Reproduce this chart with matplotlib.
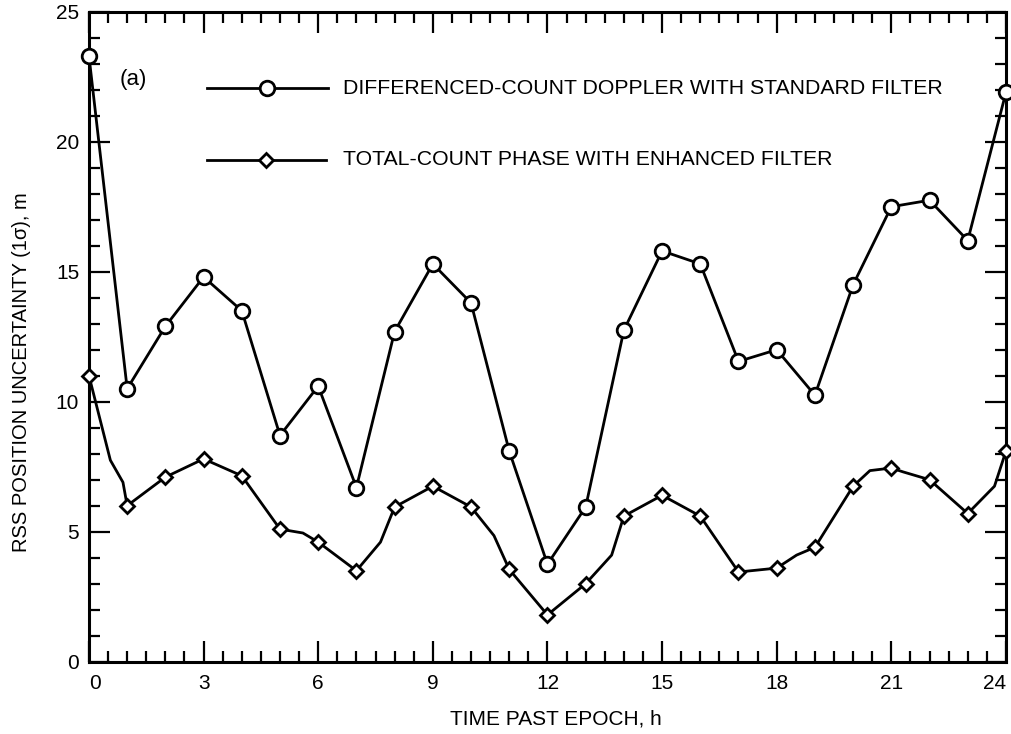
import matplotlib
matplotlib.use("Agg")
import matplotlib.pyplot as plt
from matplotlib.ticker import MultipleLocator

######################
### Data
######################
hours = list(range(25))

# differenced-count doppler, standard filter (circles)
doppler = [23.3, 10.5, 12.9, 14.8, 13.5, 8.7, 10.6, 6.7, 12.7, 15.3, 13.8, 8.1, 3.75,
           5.95, 12.75, 15.8, 15.3, 11.55, 12.0, 10.25, 14.5, 17.5, 17.75, 16.2, 21.9]

# total-count phase, enhanced filter (diamonds)
phase = [11.0, 6.0, 7.1, 7.8, 7.15, 5.1, 4.6, 3.5, 5.95, 6.75, 5.95, 3.55, 1.8,
         3.0, 5.6, 6.4, 5.6, 3.45, 3.6, 4.4, 6.75, 7.45, 7.0, 5.7, 8.1]

# bends of the phase trace between the marked hours
phase_bend_x = [0.56, 0.89, 5.6, 7.63, 10.6, 13.68, 18.52, 20.44, 21.31, 23.7]
phase_bend_y = [7.75, 6.9, 4.95, 4.6, 4.85, 4.1, 4.1, 7.35, 7.3, 6.75]

x_ticks = [0, 3, 6, 9, 12, 15, 18, 21, 24]
y_ticks = [0, 5, 10, 15, 20, 25]

label_doppler = "DIFFERENCED-COUNT DOPPLER WITH STANDARD FILTER"
label_phase = "TOTAL-COUNT PHASE WITH ENHANCED FILTER"

######################
### Draw
######################
plt.rcParams['font.family'] = ['Liberation Sans', 'DejaVu Sans']

fig = plt.figure(figsize=(10.11, 7.34), dpi=100)
ax = fig.add_axes([0.088, 0.0985, 0.907, 0.8855])

# phase trace: markers plus bends, sorted along x
trace = sorted(zip(hours + phase_bend_x, phase + phase_bend_y))
ax.plot([p[0] for p in trace], [p[1] for p in trace], '-', color='k', lw=2.0, zorder=2)
ax.plot(hours, phase, 'D', color='k', markerfacecolor='white', markeredgewidth=2.0,
        markersize=7.5, zorder=3, clip_on=False)

ax.plot(hours, doppler, '-o', color='k', lw=2.0, markerfacecolor='white',
        markeredgewidth=2.0, markersize=10.5, zorder=3, clip_on=False)

ax.set_xlim(0, 24)
ax.set_ylim(0, 25)
ax.set_xticks(x_ticks)
ax.set_yticks(y_ticks)
ax.xaxis.set_minor_locator(MultipleLocator(0.5))
ax.yaxis.set_minor_locator(MultipleLocator(1))
ax.tick_params(which='both', direction='in', top=True, right=True, width=1.6,
               labelsize=15)
ax.tick_params(which='major', length=15)
ax.tick_params(which='minor', length=8)
ax.tick_params(axis='x', which='major', pad=9)
ax.tick_params(axis='y', which='major', pad=7)
for s in ax.spines.values():
    s.set_linewidth(2.2)

# end labels sit inside the frame, as in the original
ax.xaxis.get_major_ticks()[-1].label1.set_horizontalalignment('right')
ax.xaxis.get_major_ticks()[0].label1.set_horizontalalignment('left')

ax.set_xlabel("TIME PAST EPOCH, h", fontsize=15)
ax.set_ylabel("RSS POSITION UNCERTAINTY (1σ), m", fontsize=14.5)
ax.xaxis.set_label_coords(0.509, -0.074)
ax.yaxis.set_label_coords(-0.063, 0.446)

# hand-made legend inside the axes
ax.text(0.8, 22.4, "(a)", fontsize=16, va='center')
ax.plot([3.1, 6.25], [22.05, 22.05], '-', color='k', lw=2.0)
ax.plot([4.66], [22.05], 'o', color='k', markerfacecolor='white',
        markeredgewidth=2.0, markersize=10.5)
ax.text(6.65, 22.05, label_doppler, fontsize=15.3, va='center')
ax.plot([3.1, 6.2], [19.3, 19.3], '-', color='k', lw=2.0)
ax.plot([4.64], [19.3], 'D', color='k', markerfacecolor='white',
        markeredgewidth=2.0, markersize=7.5)
ax.text(6.65, 19.3, label_phase, fontsize=15.3, va='center')

plt.savefig("out.png", dpi=100)
